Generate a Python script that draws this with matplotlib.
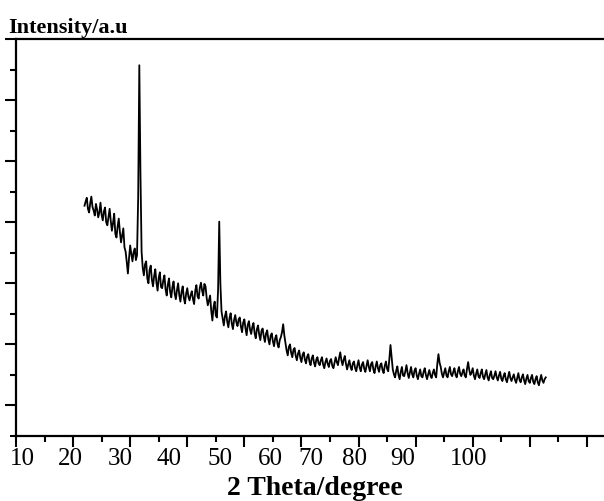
import numpy as np
import matplotlib.pyplot as plt

# XRD scan (arbitrary units), 4 degrees per row
intensity = [
    377, 384, 390, 372, 366, 381, 392, 375, 369, 361, 380, 371, 358, 366, 382, 362, 353, 368, 374, 350,
    345, 358, 372, 352, 336, 349, 364, 331, 325, 343, 356, 334, 317, 328, 340, 309, 302, 285, 266, 291,
    312, 298, 286, 301, 307, 288, 296, 390, 607, 430, 302, 275, 263, 281, 286, 258, 250, 272, 279, 256,
    245, 262, 273, 251, 238, 259, 268, 244, 242, 255, 263, 240, 230, 248, 258, 236, 227, 244, 253, 233,
    224, 239, 250, 231, 220, 236, 245, 226, 217, 233, 242, 228, 222, 231, 237, 224, 216, 238, 247, 229,
    225, 243, 251, 238, 230, 249, 245, 226, 214, 222, 230, 205, 189, 211, 220, 197, 194, 240, 351, 250,
    204, 192, 181, 196, 204, 187, 178, 193, 201, 184, 175, 190, 198, 186, 180, 191, 194, 179, 170, 186,
    191, 176, 165, 182, 188, 174, 167, 179, 185, 168, 160, 175, 181, 166, 157, 172, 176, 163, 154, 168,
    173, 158, 150, 164, 168, 155, 147, 160, 165, 151, 145, 157, 162, 170, 183, 165, 152, 140, 132, 146,
    150, 136, 129, 141, 144, 131, 124, 135, 140, 128, 121, 133, 137, 125, 119, 130, 134, 122, 116, 127,
    132, 120, 114, 125, 129, 119, 116, 124, 129, 117, 111, 121, 127, 118, 113, 123, 126, 115, 111, 120,
    129, 121, 116, 128, 137, 124, 116, 125, 131, 118, 109, 117, 124, 113, 108, 119, 122, 111, 106, 116,
    124, 112, 106, 117, 121, 110, 105, 115, 124, 113, 106, 118, 121, 109, 103, 114, 122, 111, 105, 116,
    119, 108, 103, 115, 122, 110, 106, 126, 149, 128, 109, 101, 96, 107, 114, 100, 93, 105, 113, 99,
    98, 106, 116, 103, 95, 104, 113, 101, 96, 107, 111, 99, 93, 102, 109, 98, 96, 105, 111, 100,
    93, 101, 108, 99, 95, 103, 109, 100, 96, 118, 134, 120, 113, 102, 96, 104, 111, 99, 96, 106,
    113, 101, 98, 105, 111, 100, 96, 106, 113, 102, 98, 104, 109, 99, 96, 110, 121, 108, 100, 104,
    111, 99, 93, 102, 109, 98, 95, 103, 109, 97, 93, 101, 108, 96, 91, 100, 106, 95, 93, 99,
    106, 96, 91, 99, 105, 94, 90, 98, 103, 93, 88, 97, 105, 95, 90, 96, 101, 92, 87, 95,
    103, 92, 88, 96, 101, 91, 85, 94, 100, 90, 87, 95, 100, 89, 85, 93, 98, 88, 83, 92,
    100, 91, 87, 93, 96,
]
# scan grid: start 22 degrees, step 0.2 degrees
two_theta = 22.0 + 0.2 * np.arange(len(intensity))

tick_labels = ['10', '20', '30', '40', '50', '60', '70', '80', '90', '100']
# label centres in pixels (they are not aligned with the ticks in the original)
tick_label_px = [22, 70, 120, 169, 220, 270, 311, 355, 403, 469]

W, H = 604, 501
fig = plt.figure(figsize=(W / 100, H / 100), dpi=100)
ax = fig.add_axes([16 / W, 65 / H, 1 - 16 / W, 397 / H])

ax.plot(two_theta, intensity, color='black', lw=1.3)

ax.set_xlim(10, 113)
ax.set_ylim(0, 650)
ax.set_xticks(np.arange(10, 111, 10))
ax.set_xticks(np.arange(15, 110, 10), minor=True)
ax.set_yticks(np.arange(50, 651, 100))
ax.set_yticks(np.arange(0, 601, 100), minor=True)
ax.tick_params(which='both', direction='out', width=1.5,
               labelbottom=False, labelleft=False)
ax.tick_params(which='major', length=8)
ax.tick_params(which='minor', length=4)

ax.spines['right'].set_visible(False)
for side in ['left', 'bottom', 'top']:
    ax.spines[side].set_linewidth(1.6)

serif = 'Liberation Serif'
for lab, px in zip(tick_labels, tick_label_px):
    fig.text(px / W, 1 - 459 / H, lab, ha='center', va='center',
             fontsize=18, family=serif)

fig.text(8 / W, 1 - 33 / H, 'Intensity/a.u', ha='left', va='baseline',
         fontsize=16, fontweight='bold', family=serif)
fig.text(315 / W, 1 - 495 / H, '2 Theta/degree', ha='center', va='baseline',
         fontsize=20, fontweight='bold', family=serif)

fig.savefig('out.png', dpi=100)
